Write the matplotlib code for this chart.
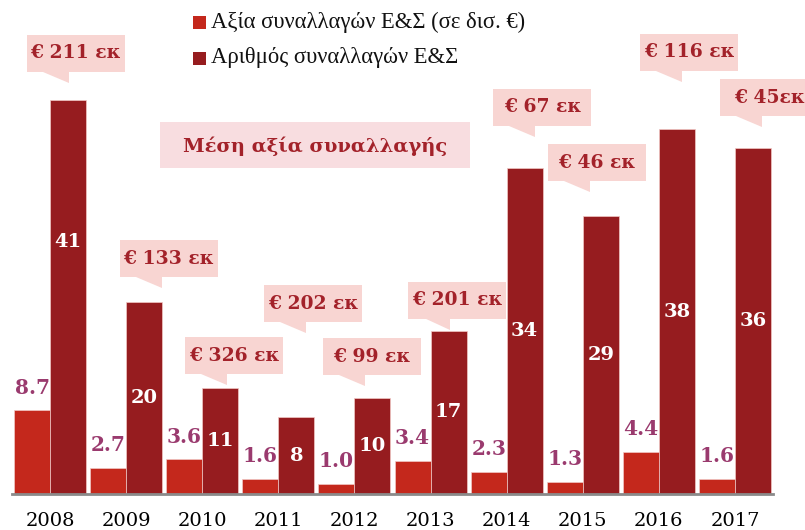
import matplotlib
matplotlib.use("Agg")
import matplotlib.pyplot as plt
from matplotlib.patches import Polygon, Rectangle
import numpy as np

years = ['2008', '2009', '2010', '2011', '2012', '2013', '2014', '2015', '2016', '2017']
value_bn = [8.7, 2.7, 3.6, 1.6, 1.0, 3.4, 2.3, 1.3, 4.4, 1.6]
deals = [41, 20, 11, 8, 10, 17, 34, 29, 38, 36]
avg_value = ['€ 211 εκ', '€ 133 εκ', '€ 326 εκ', '€ 202 εκ', '€ 99 εκ',
             '€ 201 εκ', '€ 67 εκ', '€ 46 εκ', '€ 116 εκ', '€ 45εκ']
legend_labels = ['Αξία συναλλαγών Ε&Σ (σε δισ. €)', 'Αριθμός συναλλαγών Ε&Σ']
avg_title = 'Μέση αξία συναλλαγής'

# callout box centres (data coords) - layout only
callout_xy = [(0.34, 45.9), (1.56, 24.5), (2.42, 14.4), (3.46, 19.8), (4.23, 14.3),
              (5.35, 20.2), (6.47, 40.3), (7.19, 34.5), (8.40, 46.0), (9.45, 41.3)]

c_light = '#C4281C'
c_dark = '#961C1F'
c_box = '#F8D5D2'
c_txt = '#A3222A'
c_val = '#9A3A6E'

fig = plt.figure(figsize=(8.05, 5.30), dpi=100)
ax = fig.add_axes([12 / 805, 36 / 530, 761 / 805, 494 / 530])

x = np.arange(len(years))
w = 0.473
ax.bar(x - w / 2, value_bn, w, color=c_light, edgecolor='#f2c9c6', linewidth=0.5)
ax.bar(x + w / 2, deals, w, color=c_dark, edgecolor='#f2c9c6', linewidth=0.5)

ax.set_xlim(-0.5, 9.5)
ax.set_ylim(0, 51.46)
for s in ['top', 'right', 'left']:
    ax.spines[s].set_visible(False)
ax.spines['bottom'].set_color('#8a8a8a')
ax.spines['bottom'].set_linewidth(2)
ax.set_yticks([])
ax.set_xticks(x)
ax.set_xticklabels(years, fontfamily='DejaVu Serif', fontsize=14)
ax.tick_params(axis='x', length=0, pad=13)

# value labels
for xi, v in zip(x, value_bn):
    ax.annotate(f'{v:.1f}', (xi - w / 2, v), xytext=(0, 16.5), textcoords='offset points',
                ha='center', va='center', fontfamily='DejaVu Serif', fontweight='bold',
                fontsize=14.5, color=c_val)
dark_lbl_y = [v / 2 for v in deals]
dark_lbl_y[0] = 26.3
for xi, v, yl in zip(x, deals, dark_lbl_y):
    ax.text(xi + w / 2, yl, str(v), ha='center', va='center', fontfamily='DejaVu Serif',
            fontweight='bold', fontsize=14, color='white')

# callouts
bw, bh = 1.288, 3.85
for (cx, cy), lbl in zip(callout_xy, avg_value):
    l, b = cx - bw / 2, cy - bh / 2
    ax.add_patch(Rectangle((l, b), bw, bh, facecolor=c_box, edgecolor='none', clip_on=False))
    ax.add_patch(Polygon([(l + 0.21, b + 0.01), (l + 0.55, b + 0.01), (l + 0.55, b - 1.15)],
                         closed=True, facecolor=c_box, edgecolor='none', clip_on=False))
    ax.text(cx, cy, lbl, ha='center', va='center', fontfamily='DejaVu Serif',
            fontweight='bold', fontsize=13.5, color=c_txt)

# mean value title box
fig.patches.append(Rectangle((160 / 805, 1 - 168 / 530), 310 / 805, 46 / 530,
                             transform=fig.transFigure, facecolor='#F8DDE0',
                             edgecolor='none'))
fig.text(315 / 805, 1 - 146 / 530, avg_title, ha='center', va='center',
         fontfamily='DejaVu Serif', fontweight='bold', fontsize=14, color=c_txt)

# legend
for i, (lbl, c) in enumerate(zip(legend_labels, [c_light, c_dark])):
    yc = 22 + 36 * i
    fig.patches.append(Rectangle((193 / 805, 1 - (yc + 6.5) / 530), 13 / 805, 13 / 530,
                                 transform=fig.transFigure, facecolor=c, edgecolor='none'))
    fig.text(211 / 805, 1 - yc / 530, lbl, ha='left', va='center',
             fontfamily='Liberation Serif', fontsize=16.3, color='#111111')

fig.savefig('out.png', dpi=100)
